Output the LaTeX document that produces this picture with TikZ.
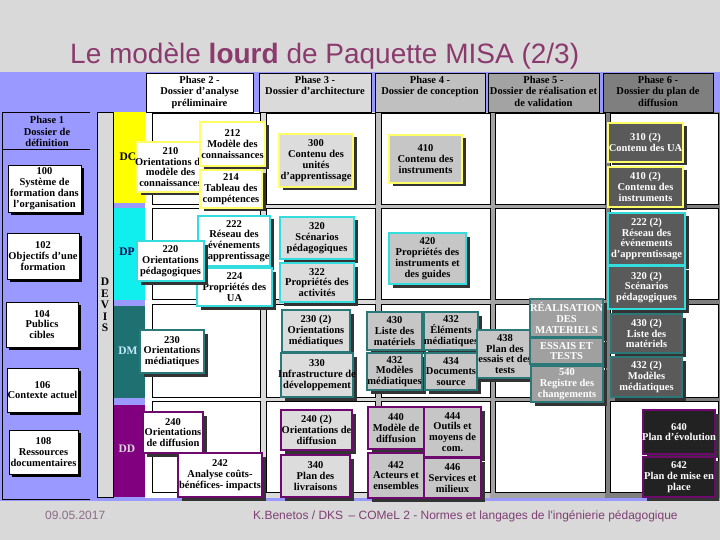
\documentclass[tikz,border=0pt]{standalone}
\usepackage{fontspec}
\setmainfont{Liberation Serif}
\newfontfamily\sansf{Liberation Sans}
\usetikzlibrary{shadows}
\definecolor{slidebg}{HTML}{D9D9D9}
\definecolor{lav}{HTML}{9999FF}
\definecolor{cYel}{HTML}{FFFF66}
\definecolor{cCyan}{HTML}{33DDDD}
\definecolor{cTeal}{HTML}{2A7878}
\definecolor{cPur}{HTML}{6E0A6E}
\definecolor{bandY}{HTML}{FFFF00}
\definecolor{bandC}{HTML}{11EEEE}
\definecolor{bandT}{HTML}{1F7070}
\definecolor{bandP}{HTML}{800080}
\definecolor{g3}{HTML}{DADADA}
\definecolor{g4}{HTML}{C0C0C0}
\definecolor{g5}{HTML}{A3A3A3}
\definecolor{g6}{HTML}{7F7F7F}
\definecolor{f3}{HTML}{DCDCDC}
\definecolor{f4}{HTML}{C6C6C6}
\definecolor{f5}{HTML}{A0A0A0}
\definecolor{f6}{HTML}{5A5A5A}
\definecolor{f7}{HTML}{222222}
\definecolor{titlec}{HTML}{8B3A6E}
\definecolor{footc}{HTML}{7F3F74}
\definecolor{datec}{HTML}{8C6B85}
\newcommand\zl[1]{\makebox[0pt]{#1}}
\newcommand\bx[7]{\node[#2, minimum width={(#5-#3)*1pt}, minimum height={(#6-#4)*1pt}] (#1) at ({(#3+#5)/2},{(#4+#6)/2}) {#7};}
\tikzset{
  bxs/.style={rectangle, inner sep=0pt, line width=2.4pt, align=center,
    font=\fontsize{10.5}{10.8}\selectfont\bfseries,
    drop shadow={shadow xshift=3.5pt, shadow yshift=-3.5pt, fill=black!80, opacity=1}},
  yb/.style={bxs, draw=cYel},
  cb/.style={bxs, draw=cCyan},
  tb/.style={bxs, draw=cTeal},
  pb/.style={bxs, draw=cPur},
  p1/.style={rectangle, inner sep=0pt, draw=black, line width=0.7pt, fill=white, align=center,
    font=\fontsize{10.5}{10.8}\selectfont\bfseries,
    drop shadow={shadow xshift=3pt, shadow yshift=-3pt, fill=black, opacity=1}},
  hdr/.style={rectangle, inner sep=0pt, draw=black, line width=0.6pt},
  htxt/.style={inner sep=0pt, align=center, font=\fontsize{10.5}{11.5}\selectfont\bfseries},
  lbl/.style={inner sep=0pt, align=center, font=\fontsize{11.5}{11.5}\selectfont\bfseries},
  panel/.style={draw=black, fill=white, line width=0.6pt}
}
\begin{document}
\begin{tikzpicture}[x=1pt,y=-1pt]
\useasboundingbox (0,0) rectangle (720,540);
\fill[slidebg] (0,0) rectangle (720,540);
\fill[lav] (0,72) rectangle (720,501);
% column backgrounds
\fill[white] (145,112) rectangle (260,498);
\fill[g3] (260,112) rectangle (375,498);
\fill[g4] (375,112) rectangle (490,498);
\fill[g5] (490,112) rectangle (605,498);
\fill[g6] (605,112) rectangle (720,498);
\foreach \a/\b in {152/260,266/375,381/490,495/605,610/718}
  \foreach \c/\d in {113/204,208/299,304/397,401/492}
    \draw[panel] (\a,\c) rectangle (\b,\d);
% bands
\fill[bandY] (113,112) rectangle (145,203);
\fill[bandC] (113,208) rectangle (145,300);
\fill[bandT] (113,306) rectangle (145,398);
\fill[bandP] (113,405) rectangle (145,497);
\filldraw[fill=slidebg, draw=black, line width=0.6pt] (97,112) rectangle (113,497);
% phase 1 frame
\draw[line width=0.6pt] (90,112) -- (2,112) -- (2,499) -- (90,499);
\draw[line width=0.6pt] (2,149) -- (90,149);
\node[htxt] (h1t) at (47,131.5) {Phase 1\\Dossier de\\définition};
% headers
\node[hdr, fill=white, minimum width=107pt, minimum height=39pt] (h2) at (199.5,92.5) {};
\node[hdr, fill=g3, minimum width=112pt, minimum height=39pt] (h3) at (315,92.5) {};
\node[hdr, fill=g4, minimum width=110pt, minimum height=39pt] (h4) at (430,92.5) {};
\node[hdr, fill=g5, minimum width=111pt, minimum height=39pt] (h5) at (543.5,92.5) {};
\node[hdr, fill=g6, minimum width=110pt, minimum height=39pt] (h6) at (658,92.5) {};
\node[htxt, anchor=north] (h2t) at (199.5,76) {Phase 2 -\\Dossier d'analyse\\préliminaire};
\node[htxt, anchor=north] (h3t) at (315,76) {Phase 3 -\\Dossier d'architecture};
\node[htxt, anchor=north] (h4t) at (430,76) {Phase 4 -\\Dossier de conception};
\node[htxt, anchor=north] (h5t) at (543.5,76) {Phase 5 -\\Dossier de réalisation et\\de validation};
\node[htxt, anchor=north] (h6t) at (658,76) {Phase 6 -\\Dossier du plan de\\diffusion};
% band labels
\node[lbl] (lDC) at (128,157) {DC};
\node[lbl, text=black!70!blue] (lDP) at (127,252) {DP};
\node[lbl, text=cyan!25!white] (lDM) at (128,351) {DM};
\node[lbl, text=slidebg] (lDD) at (127,449) {DD};
\node[lbl] (devis) at (105,305) {D\\E\\V\\I\\S};
% phase 1 boxes
\bx{b100}{p1}{8}{165}{81}{212}{\zl{100}\\\zl{Système de}\\\zl{formation dans}\\\zl{l'organisation}}
\bx{b102}{p1}{7}{233}{79}{279}{\zl{102}\\\zl{Objectifs d'une}\\\zl{formation}}
\bx{b104}{p1}{6}{302}{78}{347}{\zl{104}\\\zl{Publics}\\\zl{cibles}}
\bx{b106}{p1}{7}{368}{78}{412}{\zl{106}\\\zl{Contexte actuel}}
\bx{b108}{p1}{9}{430}{78}{474}{\zl{108}\\\zl{Ressources}\\\zl{documentaires}}
% phase 2
\bx{b210}{yb,fill=white}{137}{142}{204}{192}{\zl{210}\\\zl{Orientations du}\\\zl{modèle des}\\\zl{connaissances}}
\bx{b212}{yb,fill=white}{200}{122}{265}{166}{\zl{212}\\\zl{Modèle des}\\\zl{connaissances}}
\bx{b214}{yb,fill=white}{200}{170}{262}{208}{\zl{214}\\\zl{Tableau des}\\\zl{compétences}}
\bx{b222}{cb,fill=white}{198}{216}{270}{266}{\zl{222}\\\zl{Réseau des}\\\zl{événements}\\\zl{d'apprentissage}}
\bx{b224}{cb,fill=white}{197}{268}{272}{306}{\zl{224}\\\zl{Propriétés des}\\\zl{UA}}
\bx{b220}{cb,fill=white}{137}{241}{204}{281}{\zl{220}\\\zl{Orientations}\\\zl{pédagogiques}}
\bx{b230}{tb,fill=white}{140}{330}{204}{373}{\zl{230}\\\zl{Orientations}\\\zl{médiatiques}}
\bx{b240}{pb,fill=white}{143}{412}{203}{453}{\zl{240}\\\zl{Orientations}\\\zl{de diffusion}}
\bx{b242}{pb,fill=white}{178}{453}{262}{497}{\zl{242}\\\zl{Analyse coûts-}\\\zl{bénéfices- impacts}}
% phase 3
\bx{b300}{yb,fill=f3}{279}{134}{353}{187}{\zl{300}\\\zl{Contenu des}\\\zl{unités}\\\zl{d'apprentissage}}
\bx{b320}{cb,fill=f3}{280}{217}{354}{259}{\zl{320}\\\zl{Scénarios}\\\zl{pédagogiques}}
\bx{b322}{cb,fill=f3}{280}{263}{354}{302}{\zl{322}\\\zl{Propriétés des}\\\zl{activités}}
\bx{b230b}{tb,fill=f3}{282}{310}{350}{352}{\zl{230 (2)}\\\zl{Orientations}\\\zl{médiatiques}}
\bx{b330}{tb,fill=f3}{281}{353}{353}{397}{\zl{330}\\\zl{Infrastructure de}\\\zl{développement}}
\bx{b240b}{pb,fill=f3}{281}{410}{352}{450}{\zl{240 (2)}\\\zl{Orientations de}\\\zl{diffusion}}
\bx{b340}{pb,fill=f3}{281}{455}{350}{497}{\zl{340}\\\zl{Plan des}\\\zl{livraisons}}
% phase 4
\bx{b410}{yb,fill=f4}{389}{135}{462}{183}{\zl{410}\\\zl{Contenu des}\\\zl{instruments}}
\bx{b420}{cb,fill=f4}{389}{233}{466}{284}{\zl{420}\\\zl{Propriétés des}\\\zl{instruments et}\\\zl{des guides}}
\bx{b430}{tb,fill=f4}{367}{312}{422}{350}{\zl{430}\\\zl{Liste des}\\\zl{matériels}}
\bx{b436}{tb,fill=f4}{367}{353}{422}{390}{\zl{432}\\\zl{Modèles}\\\zl{médiatiques}}
\bx{b432}{tb,fill=f4}{424}{312}{478}{350}{\zl{432}\\\zl{Éléments}\\\zl{médiatiques}}
\bx{b434}{tb,fill=f4}{425}{353}{477}{390}{\zl{434}\\\zl{Documents}\\\zl{source}}
\bx{b438}{tb,fill=f4}{477}{330}{533}{378}{\zl{438}\\\zl{Plan des}\\\zl{essais et des}\\\zl{tests}}
\bx{b440}{pb,fill=f4}{368}{407}{424}{449}{\zl{440}\\\zl{Modèle de}\\\zl{diffusion}}
\bx{b444}{pb,fill=f4}{424}{407}{481}{457}{\zl{444}\\\zl{Outils et}\\\zl{moyens de}\\\zl{com.}}
\bx{b442}{pb,fill=f4}{368}{453}{424}{498}{\zl{442}\\\zl{Acteurs et}\\\zl{ensembles}}
\bx{b446}{pb,fill=f4}{424}{458}{481}{498}{\zl{446}\\\zl{Services et}\\\zl{milieux}}
% phase 5
\bx{b5a}{tb,fill=f5,text=white}{530}{299}{603}{337}{\zl{RÉALISATION}\\\zl{DES}\\\zl{MATERIELS}}
\bx{b5b}{tb,fill=f5,text=white}{530}{338}{603}{364}{\zl{ESSAIS ET}\\\zl{TESTS}}
\bx{b540}{tb,fill=f5,text=white}{531}{366}{603}{402}{\zl{540}\\\zl{Registre des}\\\zl{changements}}
% phase 6
\bx{b310b}{yb,fill=f6,text=white}{608}{123}{683}{162}{\zl{310 (2)}\\\zl{Contenu des UA}}
\bx{b410b}{yb,fill=f6,text=white}{608}{167}{683}{207}{\zl{410 (2)}\\\zl{Contenu des}\\\zl{instruments}}
\bx{b222b}{cb,fill=f6,text=white}{608}{213}{685}{265}{\zl{222 (2)}\\\zl{Réseau des}\\\zl{événements}\\\zl{d'apprentissage}}
\bx{b320b}{cb,fill=f6,text=white}{608}{266}{685}{309}{\zl{320 (2)}\\\zl{Scénarios}\\\zl{pédagogiques}}
\bx{b430b}{tb,fill=f6,text=white}{611}{314}{682}{353}{\zl{430 (2)}\\\zl{Liste des}\\\zl{matériels}}
\bx{b432b}{tb,fill=f6,text=white}{611}{357}{682}{397}{\zl{432 (2)}\\\zl{Modèles}\\\zl{médiatiques}}
\bx{b640}{pb,fill=f7,text=white}{643}{410}{715}{454}{\zl{640}\\\zl{Plan d'évolution}}
\bx{b642}{pb,fill=f7,text=white}{643}{457}{715}{497}{\zl{642}\\\zl{Plan de mise en}\\\zl{place}}
% title and footer
\node[anchor=base west, inner sep=0pt, font=\sansf\fontsize{28}{30}\selectfont, text=titlec] (title) at (70,64) {Le modèle \textbf{lourd} de Paquette MISA (2/3)};
\node[anchor=base west, inner sep=0pt, font=\sansf\fontsize{12}{14}\selectfont, text=datec] (date) at (45,519) {09.05.2017};
\node[anchor=base west, inner sep=0pt, font=\sansf\fontsize{12}{14}\selectfont, text=footc] (foot) at (253,519) {K.Benetos / DKS \,– COMeL 2 - Normes et langages de l'ingénierie pédagogique};
\end{tikzpicture}
\end{document}
